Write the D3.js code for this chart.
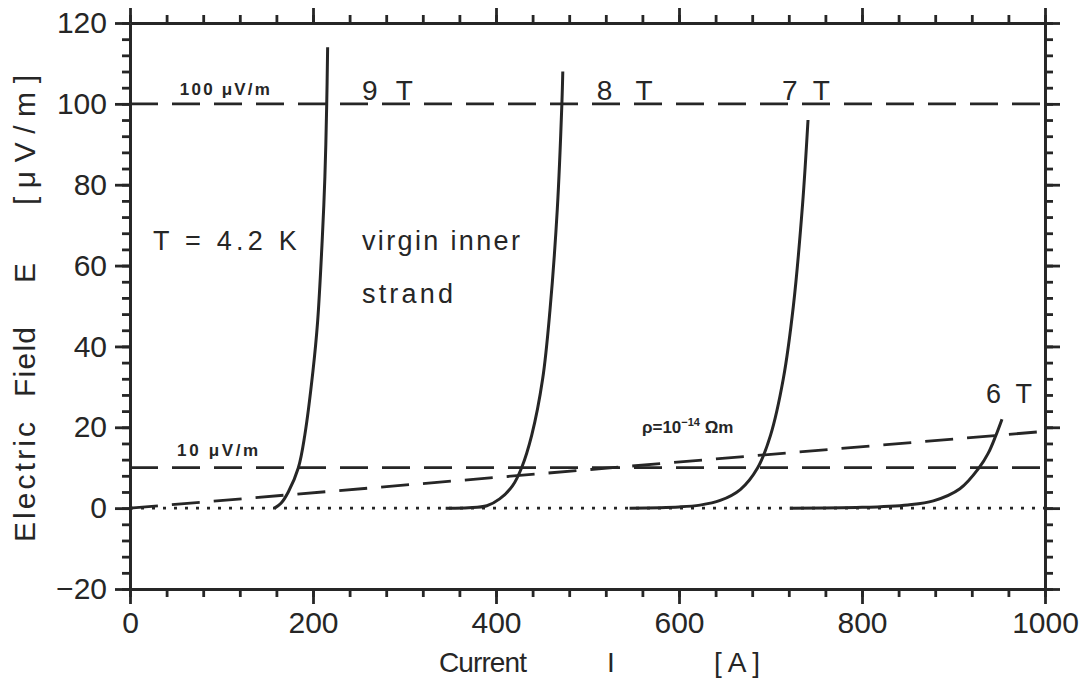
<!DOCTYPE html>
<html>
<head>
<meta charset="utf-8">
<title>E-I curves</title>
<style>
    body { margin: 0; background: #fff; }
    svg text { font-family: "Liberation Sans", Arial, sans-serif; fill: #262626; }
    .axis path, .axis line { stroke: #262626; stroke-width: 2.8px; }
    .curve { fill: none; stroke: #262626; stroke-width: 3px; }
    .ref { fill: none; stroke: #262626; stroke-width: 2.8px; stroke-dasharray: 28, 14; }
    .zero { fill: none; stroke: #262626; stroke-width: 2.8px; stroke-dasharray: 3, 8; }
</style>
<script src="https://cdn.jsdelivr.net/npm/d3@7"></script>
</head>
<body>
<svg width="1084" height="679"></svg>
<script>
    // measured curves, current in A, field in uV/m
    const I9T = [158, 165, 173, 184, 191, 200, 205, 210, 213, 215, 216];
    const E9T = [0, 1.2, 4, 10, 18, 34, 46, 66, 82, 100, 114];
    const I8T = [345, 370, 390, 404, 418, 428, 439, 451, 459, 467, 472, 473];
    const E8T = [0, 0.1, 0.6, 2.3, 5.5, 10, 18, 32, 49, 74, 100, 108];
    const I7T = [546, 600, 623, 645, 667, 686, 700, 714, 725, 735, 741];
    const E7T = [0, 0.3, 0.75, 1.9, 4.6, 10, 18, 32, 50, 75, 96];
    const I6T = [721, 800, 850, 878, 907, 928, 938, 946, 953];
    const E6T = [0, 0.2, 0.8, 1.8, 4.8, 10, 13.6, 17.8, 22];

    const criteria = [100, 10];            // uV/m
    const rhoI = [0, 1000];
    const rhoE = [0, 19];                  // rho = 1e-14 Ohm m

    const xMajor = [0, 200, 400, 600, 800, 1000];
    const yMajor = [-20, 0, 20, 40, 60, 80, 100, 120];

    const svg = d3.select("svg");
    const x = d3.scaleLinear().domain([0, 1000]).range([130, 1045]);
    const y = d3.scaleLinear().domain([-20, 120]).range([589, 23]);

    const xMinor = d3.range(0, 1001, 40);
    const yMinor = d3.range(-20, 121, 4);

    function drawAxis(axis, tx, ty) {
        const g = svg.append("g").attr("class", "axis")
            .attr("transform", `translate(${tx},${ty})`)
            .call(axis);
        return g;
    }

    // minor ticks, all four sides
    drawAxis(d3.axisBottom(x).tickValues(xMinor).tickSize(8).tickSizeOuter(0).tickFormat(""), 0, y(-20));
    drawAxis(d3.axisTop(x).tickValues(xMinor).tickSize(8).tickSizeOuter(0).tickFormat(""), 0, y(120));
    drawAxis(d3.axisLeft(y).tickValues(yMinor).tickSize(8).tickSizeOuter(0).tickFormat(""), x(0), 0);
    drawAxis(d3.axisRight(y).tickValues(yMinor).tickSize(8).tickSizeOuter(0).tickFormat(""), x(1000), 0);

    // major ticks
    drawAxis(d3.axisBottom(x).tickValues(xMajor).tickSize(15).tickSizeOuter(0).tickPadding(8)
        .tickFormat(d3.format("d")), 0, y(-20));
    drawAxis(d3.axisTop(x).tickValues(xMajor).tickSize(15).tickSizeOuter(0).tickFormat(""), 0, y(120));
    drawAxis(d3.axisLeft(y).tickValues(yMajor).tickSize(15).tickSizeOuter(0).tickPadding(8)
        .tickFormat(d => d < 0 ? "\u2212" + Math.abs(d) : d), x(0), 0);
    drawAxis(d3.axisRight(y).tickValues(yMajor).tickSize(15).tickSizeOuter(0).tickFormat(""), x(1000), 0);

    svg.selectAll(".axis text").style("font-size", "30px").style("fill", "#262626");

    // reference lines
    const line = d3.line().x(d => x(d[0])).y(d => y(d[1]));
    svg.append("path").attr("class", "zero").attr("d", line([[0, 0], [1000, 0]]));
    criteria.forEach(c => {
        svg.append("path").attr("class", "ref").attr("d", line([[0, c], [1000, c]]));
    });
    svg.append("path").attr("class", "ref").attr("d", line(d3.zip(rhoI, rhoE)));

    // E-I curves
    const curve = d3.line().x(d => x(d[0])).y(d => y(d[1])).curve(d3.curveCatmullRom.alpha(0.5));
    [[I9T, E9T], [I8T, E8T], [I7T, E7T], [I6T, E6T]].forEach(([I, E]) => {
        svg.append("path").attr("class", "curve").attr("d", curve(d3.zip(I, E)));
    });

    // annotations
    function label(txt, I, E, size, opts = {}) {
        const t = svg.append("text")
            .attr("x", x(I)).attr("y", y(E))
            .style("font-size", size + "px")
            .style("white-space", "pre")
            .text(txt);
        if (opts.weight) t.style("font-weight", opts.weight);
        if (opts.len) t.attr("textLength", opts.len).attr("lengthAdjust", "spacing");
        return t;
    }

    label("9 T", 253.5, 101, 28, { len: 51 });
    label("8 T", 510, 101, 28, { len: 56 });
    label("7 T", 712.5, 101, 28, { len: 48 });
    label("6 T", 935.5, 26, 27, { len: 46 });

    label("100 \u03bcV/m", 54.5, 102.3, 17, { weight: "bold", len: 90 });
    label("10 \u03bcV/m", 51.5, 12.9, 17, { weight: "bold", len: 81 });

    const rho = label("", 559.5, 18.6, 17, { weight: "bold" });
    rho.append("tspan").text("\u03c1=10");
    rho.append("tspan").attr("dy", -7).style("font-size", "11px").text("\u221214");
    rho.append("tspan").attr("dy", 7).text(" \u03a9m");

    label("T = 4.2 K", 25, 63.9, 27, { len: 144 });
    label("virgin inner", 253.5, 63.9, 27, { len: 158 });
    label("strand", 253.5, 50.7, 27, { len: 91 });

    // axis titles
    const yTitle = [["Electric", 542, 120], ["Field", 397, 70], ["E", 283, 18], ["[\u03bcV/m]", 205, 130]];
    yTitle.forEach(([txt, pos, len]) => {
        svg.append("text")
            .attr("transform", `translate(35,${pos}) rotate(-90)`)
            .attr("textLength", len).attr("lengthAdjust", "spacing")
            .style("font-size", "30px")
            .text(txt);
    });

    const xTitle = [["Current", 439, 88], ["I", 607, 6], ["[A]", 714, 46]];
    xTitle.forEach(([txt, pos, len]) => {
        svg.append("text")
            .attr("x", pos).attr("y", 672)
            .attr("textLength", len).attr("lengthAdjust", "spacing")
            .style("font-size", "28px")
            .text(txt);
    });
</script>
</body>
</html>
